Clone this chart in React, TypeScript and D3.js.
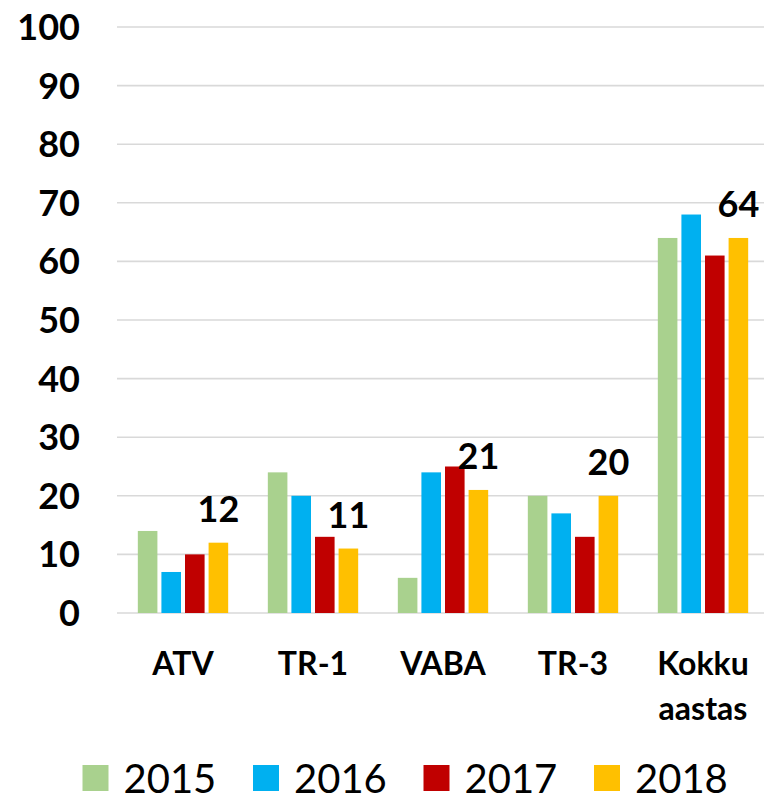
import React from "react";
import * as d3 from "d3";

const categories = ["ATV", "TR-1", "VABA", "TR-3", "Kokku aastas"];
const categoryLines = [["ATV"], ["TR-1"], ["VABA"], ["TR-3"], ["Kokku", "aastas"]];
const seriesNames = ["2015", "2016", "2017", "2018"];
const values2015 = [14, 24, 6, 20, 64];
const values2016 = [7, 20, 24, 17, 68];
const values2017 = [10, 13, 25, 13, 61];
const values2018 = [12, 11, 21, 20, 64];
const seriesColors = ["#A9D18E", "#00B0F0", "#C00000", "#FFC000"];
const yTicks = [0, 10, 20, 30, 40, 50, 60, 70, 80, 90, 100];
const labeledSeries = 3;

const W = 764;
const H = 801;
const FONT = "Lato, 'Open Sans', sans-serif";

export default function App() {
  const series = [values2015, values2016, values2017, values2018];
  const y = d3.scaleLinear().domain([0, 100]).range([613, 27]);
  const x0 = d3
    .scaleBand<string>()
    .domain(categories)
    .range([118, 768])
    .paddingInner(0.305)
    .paddingOuter(0.1525);
  const x1 = d3
    .scaleBand<string>()
    .domain(seriesNames)
    .range([0, x0.bandwidth()])
    .paddingInner(0.17)
    .paddingOuter(0);

  return (
    <svg
      width={W}
      height={H}
      style={{ position: "absolute", left: 0, top: 0, background: "#fff" }}
    >
      {yTicks.map((t) => (
        <g key={t}>
          <line x1={117} x2={W} y1={y(t)} y2={y(t)} stroke="#d9d9d9" strokeWidth={1.6} />
          <text
            x={80}
            y={y(t) + 13}
            textAnchor="end"
            fontFamily={FONT}
            fontWeight={700}
            fontSize={36}
            fill="#000"
          >
            {t}
          </text>
        </g>
      ))}
      {categories.map((c, ci) => (
        <g key={c} transform={`translate(${x0(c)},0)`}>
          {series.map((vals, si) => (
            <rect
              key={si}
              x={x1(seriesNames[si])}
              y={y(vals[ci])}
              width={x1.bandwidth()}
              height={y(0) - y(vals[ci])}
              fill={seriesColors[si]}
            />
          ))}
          <text
            x={(x1(seriesNames[labeledSeries]) as number) + x1.bandwidth() / 2}
            y={y(series[labeledSeries][ci]) - 21}
            textAnchor="middle"
            fontFamily={FONT}
            fontWeight={700}
            fontSize={36}
            fill="#000"
          >
            {series[labeledSeries][ci]}
          </text>
        </g>
      ))}
      {categories.map((c, ci) => (
        <text
          key={c}
          x={(x0(c) as number) + x0.bandwidth() / 2}
          y={675}
          textAnchor="middle"
          fontFamily={FONT}
          fontWeight={700}
          fontSize={32}
          fill="#000"
        >
          {categoryLines[ci].map((line, li) => (
            <tspan key={li} x={(x0(c) as number) + x0.bandwidth() / 2} y={675 + li * 45}>
              {line}
            </tspan>
          ))}
        </text>
      ))}
      {seriesNames.map((s, si) => (
        <g key={s} transform={`translate(${82.5 + si * 170.5},0)`}>
          <rect x={0} y={765} width={26} height={26} fill={seriesColors[si]} />
          <text x={41} y={793} fontFamily={FONT} fontSize={40} fill="#000">
            {s}
          </text>
        </g>
      ))}
    </svg>
  );
}
